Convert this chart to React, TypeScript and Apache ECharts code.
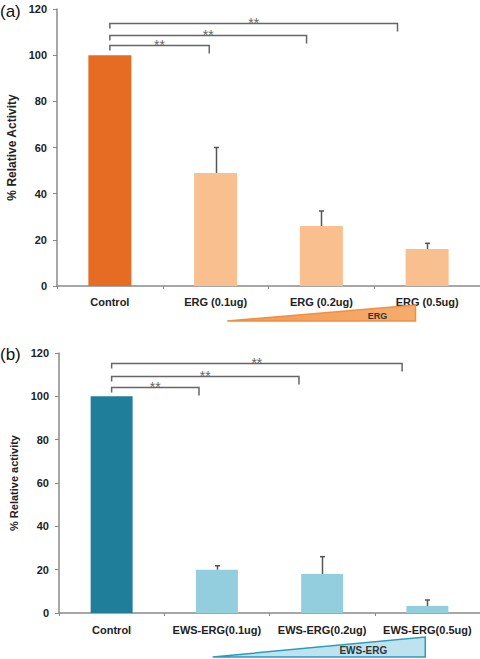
import React, { useEffect, useRef } from "react";
import * as echarts from "echarts";

// ---------- data ----------
const categoriesA = ["Control", "ERG (0.1ug)", "ERG (0.2ug)", "ERG (0.5ug)"];
const valuesA = [100, 49, 26, 16];
const errorTopA = [100, 60, 32.5, 18.5];

const categoriesB = ["Control", "EWS-ERG(0.1ug)", "EWS-ERG(0.2ug)", "EWS-ERG(0.5ug)"];
const valuesB = [100, 20, 18, 3.2];
const errorTopB = [100, 21.8, 26, 6];

// significance brackets: [fromCategory, toCategory, level]
const bracketsA = [
  [0, 0.94, 104.4],
  [0, 1.86, 108.7],
  [0, 2.72, 113.9],
];
const bracketsB = [
  [0, 0.83, 104.1],
  [0, 1.78, 109.2],
  [0, 2.76, 115.6],
];
const sigText = "**";

// dose wedges: [fromCategory, toCategory]
const wedgeA = [1.11, 2.89];
const wedgeB = [0.96, 2.98];
const wedgeLabelA = "ERG";
const wedgeLabelB = "EWS-ERG";

const yMin = 0;
const yMax = 120;
const yStep = 20;
const yNameA = "% Relative Activity";
const yNameB = "% Relative activity";
const panelLabels = ["(a)", "(b)"];

// ---------- styles ----------
const FONT = "Arial, 'Liberation Sans', sans-serif";
const colorsA = ["#E66C24", "#F9BF8E"];
const colorsB = ["#1F7F9B", "#93CEDF"];
const AXIS_COLOR = "#8a8a8a";
const BRACKET_COLOR = "#666666";
const DROP_LEFT = 5;
const DROP_RIGHT = 8;

function makeBracketRender() {
  return (params: any, api: any) => {
    const lvl = api.value(1);
    const from = api.value(2);
    const to = api.value(3);
    const p0 = api.coord([0, lvl]);
    const p1 = api.coord([1, lvl]);
    const bw = p1[0] - p0[0];
    const x1 = p0[0] + from * bw;
    const x2 = p0[0] + to * bw;
    const y = Math.round(p0[1]) + 0.5;
    return {
      type: "group",
      children: [
        {
          type: "polyline",
          shape: { points: [[x1, y + DROP_LEFT], [x1, y], [x2, y], [x2, y + DROP_RIGHT]] },
          style: { stroke: BRACKET_COLOR, lineWidth: 1.5, fill: null },
        },
        {
          type: "text",
          style: {
            text: sigText,
            x: (x1 + x2) / 2,
            y: y - 8,
            align: "center",
            verticalAlign: "top",
            fill: "#666",
            fontSize: 14,
            fontFamily: FONT,
          },
        },
      ],
    };
  };
}

function errorRender(params: any, api: any) {
  const idx = api.value(0);
  const val = api.value(1);
  const top = api.value(2);
  if (!(top > val)) return null;
  const b = api.coord([idx, val]);
  const t = api.coord([idx, top]);
  const x = Math.round(b[0]) + 0.5;
  return {
    type: "group",
    children: [
      { type: "line", shape: { x1: x, y1: b[1], x2: x, y2: t[1] }, style: { stroke: "#555", lineWidth: 1.5 } },
      { type: "line", shape: { x1: x - 2.5, y1: t[1], x2: x + 2.5, y2: t[1] }, style: { stroke: "#555", lineWidth: 1.5 } },
    ],
  };
}

function makeWedgeRender(
  label: string,
  topOff: number,
  botOff: number,
  fill: any,
  stroke: string,
  fontSize: number,
  textDx: number
) {
  return (params: any, api: any) => {
    const from = api.value(2);
    const to = api.value(3);
    const p0 = api.coord([0, 0]);
    const p1 = api.coord([1, 0]);
    const bw = p1[0] - p0[0];
    const xl = p0[0] + from * bw;
    const xr = p0[0] + to * bw;
    const yt = p0[1] + topOff;
    const yb = p0[1] + botOff;
    return {
      type: "group",
      children: [
        {
          type: "polygon",
          shape: { points: [[xl, yb], [xr, yt], [xr, yb]] },
          style: { fill, stroke, lineWidth: 1.5 },
        },
        {
          type: "text",
          style: {
            text: label,
            x: xr + textDx,
            y: yb - (botOff - topOff) * 0.33,
            align: "center",
            verticalAlign: "middle",
            fill: "#333",
            fontSize,
            fontWeight: "bold",
            fontFamily: FONT,
          },
        },
      ],
    };
  };
}

function yAxisCfg(gridIndex: number, name: string, nameSize: number) {
  return {
    type: "value",
    gridIndex,
    min: yMin,
    max: yMax,
    interval: yStep,
    name,
    nameLocation: "middle",
    nameGap: 32,
    nameTextStyle: { fontFamily: FONT, fontWeight: "bold", fontSize: nameSize, color: "#222" },
    axisLine: { show: true, lineStyle: { color: AXIS_COLOR, width: 1.5 } },
    axisTick: { show: true, inside: false, length: 4, lineStyle: { color: AXIS_COLOR } },
    axisLabel: { fontFamily: FONT, fontWeight: "bold", fontSize: 11, color: "#222", margin: 10 },
    splitLine: { show: false },
  };
}

function xAxisCfg(gridIndex: number, data: string[], margin: number) {
  return {
    type: "category",
    gridIndex,
    data,
    boundaryGap: true,
    axisLine: { show: true, lineStyle: { color: AXIS_COLOR, width: 1.5 } },
    axisTick: { show: true, alignWithLabel: false, length: 3, lineStyle: { color: AXIS_COLOR } },
    axisLabel: { fontFamily: FONT, fontWeight: "bold", fontSize: 11, color: "#222", margin, interval: 0 },
    splitLine: { show: false },
  };
}

export default function App() {
  const ref = useRef<HTMLDivElement>(null);

  useEffect(() => {
    if (!ref.current) return;
    const chart = echarts.init(ref.current, undefined, { renderer: "svg" });

    const barsA = valuesA.map((v, i) => ({ value: v, itemStyle: { color: i === 0 ? colorsA[0] : colorsA[1] } }));
    const barsB = valuesB.map((v, i) => ({ value: v, itemStyle: { color: i === 0 ? colorsB[0] : colorsB[1] } }));

    const option: any = {
      animation: false,
      backgroundColor: "#ffffff",
      grid: [
        { left: 57, top: 9, right: 0, bottom: 373, containLabel: false, outerBoundsMode: "none" },
        { left: 59, top: 353, right: 0, bottom: 46, containLabel: false, outerBoundsMode: "none" },
      ],
      xAxis: [xAxisCfg(0, categoriesA, 10), xAxisCfg(1, categoriesB, 11)],
      yAxis: [yAxisCfg(0, yNameA, 12), yAxisCfg(1, yNameB, 11)],
      graphic: [
        {
          type: "text",
          left: 0,
          top: 3,
          style: { text: panelLabels[0], fontSize: 17, fontFamily: FONT, fill: "#111" },
        },
        {
          type: "text",
          left: 0,
          top: 346,
          style: { text: panelLabels[1], fontSize: 17, fontFamily: FONT, fill: "#111" },
        },
      ],
      series: [
        {
          type: "bar",
          xAxisIndex: 0,
          yAxisIndex: 0,
          data: barsA,
          barWidth: 43,
        },
        {
          type: "custom",
          xAxisIndex: 0,
          yAxisIndex: 0,
          renderItem: errorRender,
          data: valuesA.map((v, i) => [i, v, errorTopA[i]]),
          encode: { x: 0, y: 1 },
          z: 3,
        },
        {
          type: "custom",
          xAxisIndex: 0,
          yAxisIndex: 0,
          clip: false,
          renderItem: makeBracketRender(),
          data: bracketsA.map((b) => [0, b[2], b[0], b[1]]),
          encode: { x: 0, y: 1 },
        },
        {
          type: "custom",
          xAxisIndex: 0,
          yAxisIndex: 0,
          clip: false,
          renderItem: makeWedgeRender(
            wedgeLabelA,
            19,
            35,
            new echarts.graphic.LinearGradient(0, 0, 1, 0, [
              { offset: 0, color: "#F39A50" },
              { offset: 1, color: "#F6AC6C" },
            ]),
            "#F08F42",
            9,
            -38
          ),
          data: [[0, 0, wedgeA[0], wedgeA[1]]],
          encode: { x: 0, y: 1 },
        },
        {
          type: "bar",
          xAxisIndex: 1,
          yAxisIndex: 1,
          data: barsB,
          barWidth: 42,
        },
        {
          type: "custom",
          xAxisIndex: 1,
          yAxisIndex: 1,
          renderItem: errorRender,
          data: valuesB.map((v, i) => [i, v, errorTopB[i]]),
          encode: { x: 0, y: 1 },
          z: 3,
        },
        {
          type: "custom",
          xAxisIndex: 1,
          yAxisIndex: 1,
          clip: false,
          renderItem: makeBracketRender(),
          data: bracketsB.map((b) => [0, b[2], b[0], b[1]]),
          encode: { x: 0, y: 1 },
        },
        {
          type: "custom",
          xAxisIndex: 1,
          yAxisIndex: 1,
          clip: false,
          renderItem: makeWedgeRender(wedgeLabelB, 24, 44, "#BFE3EE", "#2A9BBF", 10, -62),
          data: [[0, 0, wedgeB[0], wedgeB[1]]],
          encode: { x: 0, y: 1 },
        },
      ],
    };

    chart.setOption(option);
    return () => chart.dispose();
  }, []);

  return (
    <div
      ref={ref}
      style={{ position: "fixed", left: 0, top: 0, width: 480, height: 659, background: "#fff" }}
    />
  );
}
